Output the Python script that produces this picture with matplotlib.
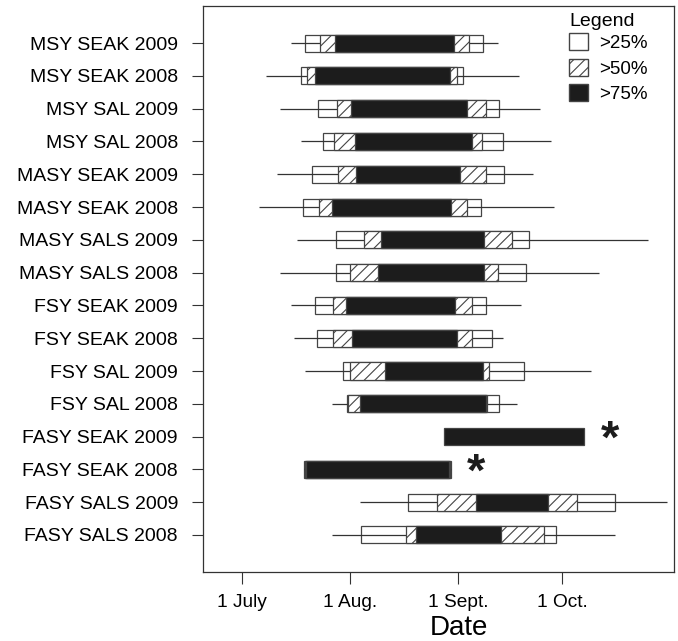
import matplotlib
matplotlib.use("Agg")
from matplotlib import pyplot as plt
from matplotlib.patches import Patch

plt.rcParams['font.family'] = ['Liberation Sans', 'DejaVu Sans']
plt.rcParams['hatch.linewidth'] = 0.8

# days after 1 July
groups = ["MSY SEAK 2009", "MSY SEAK 2008", "MSY SAL 2009", "MSY SAL 2008",
          "MASY SEAK 2009", "MASY SEAK 2008", "MASY SALS 2009", "MASY SALS 2008",
          "FSY SEAK 2009", "FSY SEAK 2008", "FSY SAL 2009", "FSY SAL 2008",
          "FASY SEAK 2009", "FASY SEAK 2008", "FASY SALS 2009", "FASY SALS 2008"]
range_lo = [14.1, 7.0, 11.0, 17.0, 10.0, 5.1, 16.0, 11.1, 14.1, 15.1, 18.1, 26.0, None, 17.9, 33.9, 26.0]
range_hi = [73.6, 79.6, 85.6, 88.6, 83.7, 89.6, 116.6, 102.6, 80.0, 75.0, 100.1, 79.1, None, 60.0, 122.1, 107.1]
p25_lo = [18.2, 16.9, 22.0, 23.2, 20.1, 17.5, 27.0, 27.0, 21.0, 21.7, 29.2, 30.1, None, 18.0, 47.8, 34.3]
p25_hi = [69.3, 63.6, 73.9, 75.0, 75.2, 68.6, 82.5, 81.6, 70.0, 71.7, 80.9, 73.9, None, 59.9, 107.1, 90.1]
p50_lo = [22.4, 18.8, 27.4, 26.6, 27.5, 22.1, 35.1, 31.1, 26.1, 26.1, 31.1, 30.5, None, 18.2, 56.1, 47.0]
p50_hi = [65.1, 61.7, 70.0, 69.0, 70.0, 64.5, 77.6, 73.6, 66.0, 66.0, 71.0, 70.5, None, 59.7, 96.1, 86.8]
p75_lo = [26.8, 21.0, 31.3, 32.5, 32.8, 26.0, 40.0, 39.0, 29.9, 31.7, 41.1, 33.9, 58.0, 18.4, 67.1, 50.0]
p75_hi = [60.9, 59.8, 64.5, 66.0, 62.6, 60.0, 69.6, 69.6, 61.2, 61.8, 69.1, 70.1, 98.1, 59.6, 87.8, 74.4]
starred = ["FASY SEAK 2009", "FASY SEAK 2008"]

tick_days = [0, 31, 62, 92]
tick_labels = ["1 July", "1 Aug.", "1 Sept.", "1 Oct."]

fig = plt.figure(figsize=(6.78, 6.41), dpi=100)
ax = fig.add_axes([0.2994, 0.1076, 0.6947, 0.8830])

edge = "#444444"
h = 0.52
n = len(groups)
for i, g in enumerate(groups):
    y = n - i
    if p25_lo[i] is not None:
        ax.barh(y, p25_hi[i] - p25_lo[i], left=p25_lo[i], height=h,
                color="white", edgecolor=edge, linewidth=0.9, zorder=2)
        ax.hlines(y, range_lo[i], range_hi[i], color="#333333", linewidth=0.9, zorder=3)
        ax.barh(y, p50_hi[i] - p50_lo[i], left=p50_lo[i], height=h,
                color="white", edgecolor=edge, hatch="///", linewidth=0.9, zorder=4)
    ax.barh(y, p75_hi[i] - p75_lo[i], left=p75_lo[i], height=h,
            color="#1c1c1c", edgecolor=edge, linewidth=0.9, zorder=5)
    if g in starred:
        ax.text(p75_hi[i] + 5.0, y - 0.12, "*", fontsize=34, fontweight="bold",
                ha="left", va="center", color="#1c1c1c")

ax.set_xlim(-11.1, 124.0)
ax.set_ylim(-0.13, 17.13)
ax.set_yticks([n - i for i in range(n)])
ax.set_yticklabels(groups, fontsize=14)
ax.set_xticks(tick_days)
ax.set_xticklabels(tick_labels, fontsize=13.8)
ax.tick_params(axis="y", direction="out", length=8, pad=10, color="#333333")
ax.tick_params(axis="x", direction="out", length=8.5, pad=7, color="#333333")
for s in ax.spines.values():
    s.set_color("#333333")
    s.set_linewidth(0.9)
ax.set_xlabel("Date", fontsize=20, labelpad=3, x=0.543)

handles = [Patch(facecolor="white", edgecolor=edge, label=">25%"),
           Patch(facecolor="white", edgecolor=edge, hatch="///", label=">50%"),
           Patch(facecolor="#1c1c1c", edgecolor=edge, label=">75%")]
leg = ax.legend(handles=handles, title="Legend", loc="upper left",
                frameon=False, fontsize=13.5, title_fontsize=14,
                handlelength=1.0, handleheight=1.0, handletextpad=0.6,
                labelspacing=0.36, borderpad=0, borderaxespad=0,
                bbox_to_anchor=(0.777, 0.987))
leg._legend_box.align = "left"
leg._legend_box.sep = 2

fig.savefig("out.png", dpi=100)
